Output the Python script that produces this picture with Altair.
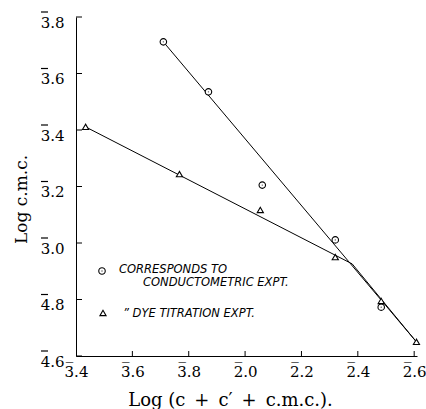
import altair as alt
import pandas as pd

# conductometric experiment (circles)
circ_x = [-2.290, -2.130, -1.939, -1.680, -1.517]
circ_y = [-2.288, -2.465, -2.795, -2.989, -3.227]
# dye titration experiment (triangles)
tri_x = [-2.566, -2.233, -1.946, -1.680, -1.517, -1.392]
tri_y = [-2.589, -2.756, -2.883, -3.050, -3.205, -3.350]
# fitted lines
lineA_x = [-2.290, -1.392]
lineA_y = [-2.288, -3.350]
lineB_x = [-2.566, -1.620, -1.392]
lineB_y = [-2.589, -3.074, -3.350]

# tick labels in bar notation (the bar over the characteristic is drawn as a mark)
x_ticks = [-2.6, -2.4, -2.2, -2.0, -1.8, -1.6, -1.4]
x_labels = ["3.4", "3.6", "3.8", "2.0", "2.2", "2.4", "2.6"]
y_ticks = [-2.2, -2.4, -2.6, -2.8, -3.0, -3.2, -3.4]
y_labels = ["3.8", "3.6", "3.4", "3.2", "3.0", "4.8", "4.6"]

W, H = 341, 339
SERIF = "DejaVu Serif"
SANS = "DejaVu Sans"


def label_expr(ticks, labels):
    return "".join(
        f"abs(datum.value - ({v})) < 1e-6 ? '{lab}' : " for v, lab in zip(ticks, labels)
    ) + "''"


xs = alt.Scale(domain=[-2.6, -1.39], nice=False, zero=False)
ys = alt.Scale(domain=[-3.4, -2.2], nice=False, zero=False)

xaxis = alt.Axis(values=x_ticks, labelExpr=label_expr(x_ticks, x_labels), ticks=False,
                 grid=False, labelFont=SERIF, labelFontSize=15, labelPadding=8,
                 title="Log (c\u2002+\u2002c\u2032\u2002+\u2002c.m.c.).", titleFont=SERIF,
                 titleFontSize=18, titleFontWeight="normal", titleX=154, titleY=49,
                 titleBaseline="alphabetic", labelFlush=False)
yaxis = alt.Axis(values=y_ticks, labelExpr=label_expr(y_ticks, y_labels), ticks=False,
                 grid=False, labelFont=SERIF, labelFontSize=15, labelPadding=12,
                 labelBaseline="middle", labelOffset=5,
                 title="Log c.m.c.", titleFont=SERIF, titleFontSize=17,
                 titleFontWeight="normal", titleX=-55, titleY=182, titleAngle=-90,
                 titleBaseline="middle", labelFlush=False)

lines_df = pd.concat([
    pd.DataFrame({"x": lineA_x, "y": lineA_y, "s": "A"}),
    pd.DataFrame({"x": lineB_x, "y": lineB_y, "s": "B"}),
])
circ_df = pd.DataFrame({"x": circ_x, "y": circ_y})
tri_df = pd.DataFrame({"x": tri_x, "y": tri_y})
xt_df = pd.DataFrame({"x": x_ticks})
yt_df = pd.DataFrame({"y": y_ticks})

base_axes = alt.Chart(pd.DataFrame({"x": [-2.6], "y": [-3.4]})).mark_point(opacity=0).encode(
    x=alt.X("x:Q", scale=xs, axis=xaxis),
    y=alt.Y("y:Q", scale=ys, axis=yaxis),
)

lines = alt.Chart(lines_df).mark_line(color="black", strokeWidth=1).encode(
    x=alt.X("x:Q", scale=xs), y=alt.Y("y:Q", scale=ys), detail="s:N")

circ_style = dict(shape="circle", filled=False, color="black", fill="white",
                  fillOpacity=1, size=42, strokeWidth=1.1)
tri_style = dict(shape="triangle-up", filled=False, color="black", fill="white",
                 fillOpacity=1, size=38, strokeWidth=1.1)

circles = alt.Chart(circ_df).mark_point(**circ_style).encode(
    x=alt.X("x:Q", scale=xs), y=alt.Y("y:Q", scale=ys))
dots = alt.Chart(circ_df).mark_point(shape="circle", filled=True, color="black", size=2).encode(
    x=alt.X("x:Q", scale=xs), y=alt.Y("y:Q", scale=ys))
tris = alt.Chart(tri_df).mark_point(**tri_style).encode(
    x=alt.X("x:Q", scale=xs), y=alt.Y("y:Q", scale=ys))

# inward ticks
xticks = alt.Chart(xt_df.iloc[1:]).mark_rule(color="black", strokeWidth=1).encode(
    x=alt.X("x:Q", scale=xs), y=alt.value(H), y2=alt.value(H - 5))
yticks = alt.Chart(yt_df).mark_rule(color="black", strokeWidth=1).encode(
    y=alt.Y("y:Q", scale=ys), x=alt.value(0), x2=alt.value(6))

# bars over the characteristic of each x tick label (underscore glyph)
xbars = alt.Chart(xt_df).transform_calculate(bar="'_'").mark_text(
    font=SERIF, fontSize=15, align="center", baseline="alphabetic", dx=-6.5,
    color="black").encode(
    x=alt.X("x:Q", scale=xs), y=alt.value(H + 3), text="bar:N")
ybars = alt.Chart(yt_df).mark_rule(color="black", strokeWidth=1.2,
                                   yOffset=-5).encode(
    y=alt.Y("y:Q", scale=ys), x=alt.value(-35), x2=alt.value(-28))

# legend (annotation inside plot)
one = pd.DataFrame({"a": [0]})
leg_c = alt.Chart(one).mark_point(**circ_style).encode(x=alt.value(26), y=alt.value(254))
leg_cd = alt.Chart(one).mark_point(shape="circle", filled=True, color="black", size=2).encode(
    x=alt.value(26), y=alt.value(254))
leg_t = alt.Chart(one).mark_point(**tri_style).encode(x=alt.value(27), y=alt.value(296))


def leg_text(txt, x, y):
    return alt.Chart(pd.DataFrame({"t": [txt]})).mark_text(
        font=SANS, fontSize=11.5, fontStyle="italic", align="left", baseline="middle",
        color="black").encode(text="t:N", x=alt.value(x), y=alt.value(y))


chart = alt.layer(
    base_axes, lines, circles, dots, tris, xticks, yticks, xbars, ybars,
    leg_c, leg_cd, leg_t,
    leg_text("CORRESPONDS TO", 43, 253),
    leg_text("CONDUCTOMETRIC EXPT.", 67, 266),
    leg_text("\u201d DYE TITRATION EXPT.", 47, 297),
).properties(
    width=W, height=H,
    autosize=alt.AutoSizeParams(type="none"),
    padding={"left": 76, "top": 17, "right": 9, "bottom": 53},
    background="white",
).configure_view(stroke=None).configure_axis(
    domainColor="black", domainWidth=1, labelColor="black", titleColor="black"
)

chart.save("out.html", embed_options={"renderer": "svg", "actions": False})
